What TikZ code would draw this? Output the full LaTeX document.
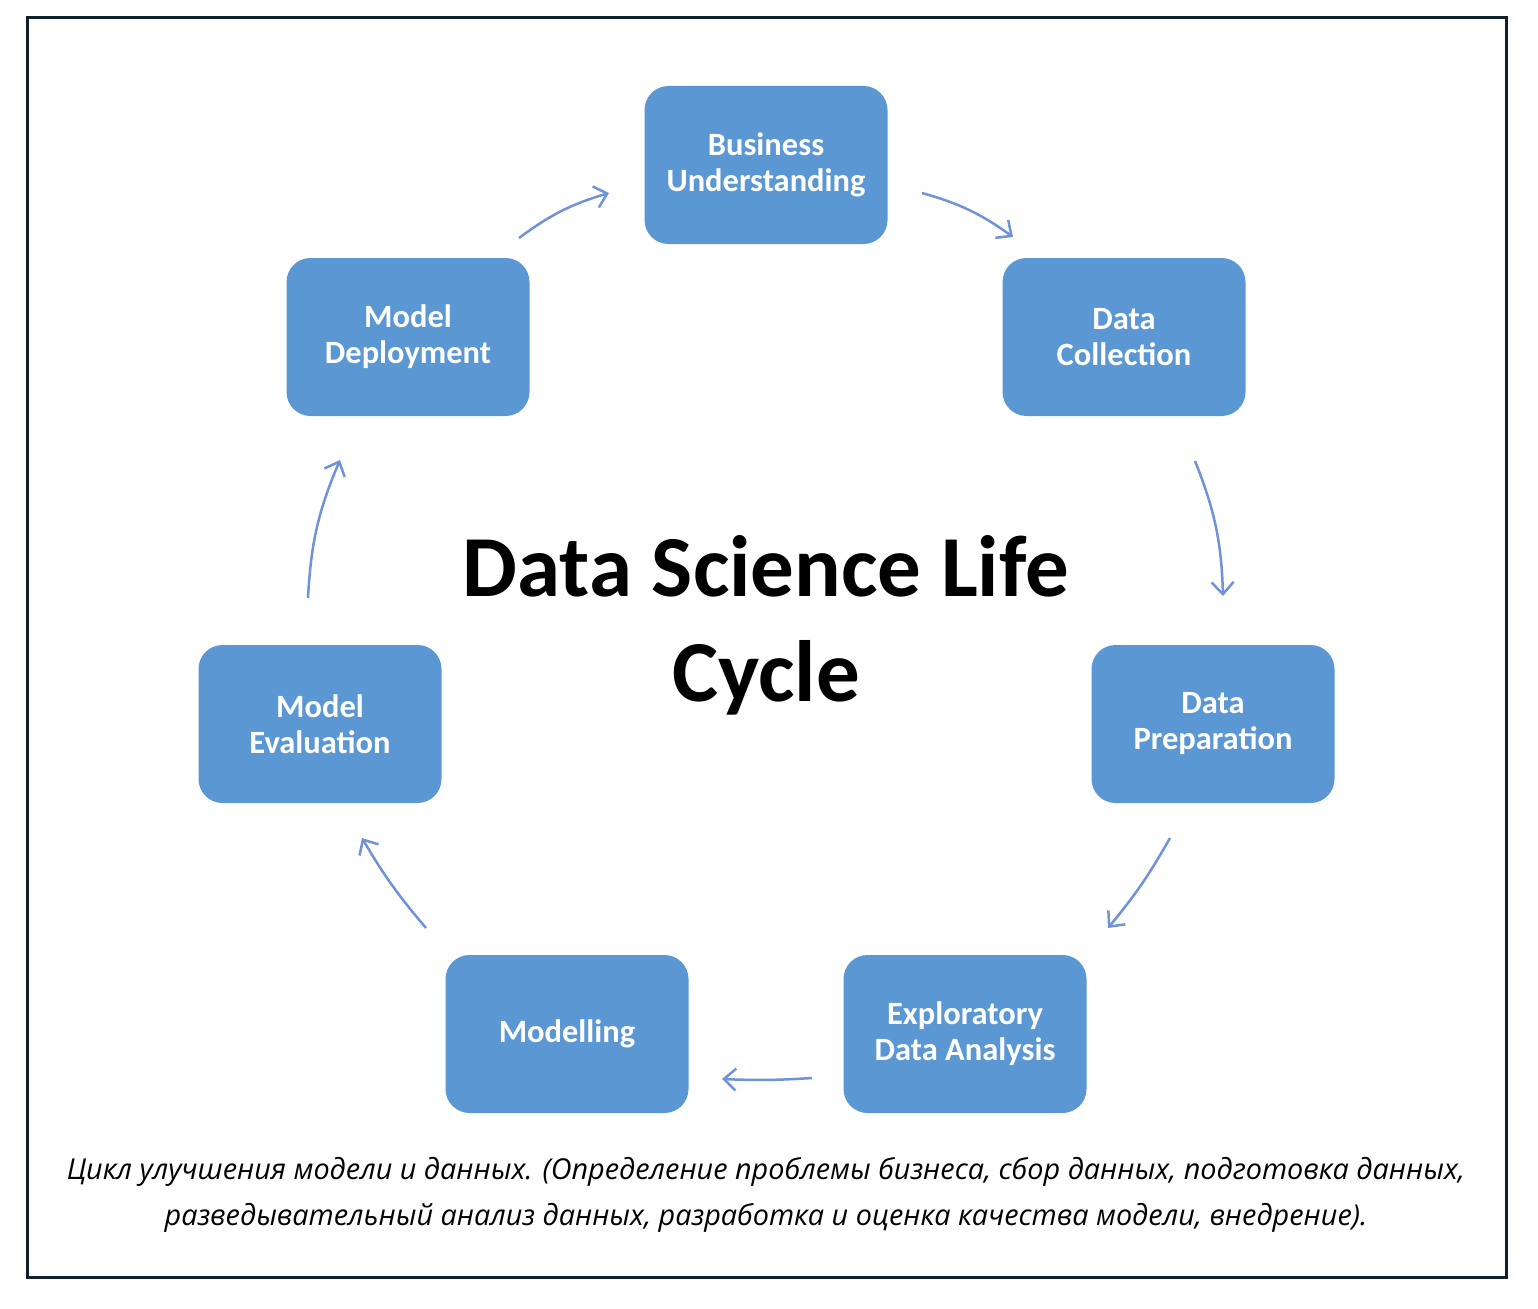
\documentclass[tikz,border=0pt]{standalone}
\usepackage{fontspec}
\setmainfont{Carlito}
\newfontfamily\captionfont{Open Sans}
\usetikzlibrary{arrows.meta}
\definecolor{boxblue}{RGB}{91,151,211}
\definecolor{arrowblue}{RGB}{112,146,214}
\definecolor{framecol}{RGB}{14,35,41}

\begin{document}
\begin{tikzpicture}[x=1pt,y=-1pt]
	\useasboundingbox (0,0) rectangle (1538,1308);
	\draw[framecol, line width=3pt] (27.5,17.5) rectangle (1506.5,1277.5);

	\begin{scope}[every node/.style={rectangle, rounded corners=24pt, fill=boxblue, minimum width=243pt, minimum height=158pt, text=white, align=center, font=\bfseries\fontsize{32.5}{36}\selectfont}]
		\node (bu) at (766,165) {Business\\Understanding};
		\node (dc) at (1124,337) {Data\\Collection};
		\node (dp) at (1213,724) {Data\\Preparation};
		\node (eda) at (965,1034) {Exploratory\\Data Analysis};
		\node (mod) at (567,1034) {Modelling};
		\node (mev) at (320,724) {Model\\Evaluation};
		\node (mdep) at (408,337) {Model\\Deployment};
	\end{scope}

	\node[align=center, font=\bfseries\fontsize{87}{105}\selectfont] (title) at (766,625) {Data Science Life\\Cycle};
	\node[align=center, font=\captionfont\itshape\fontsize{28.8}{46}\selectfont] (caption) at (766,1195) {Цикл улучшения модели и данных. (Определение проблемы бизнеса, сбор данных, подготовка данных,\\разведывательный анализ данных, разработка и оценка качества модели, внедрение).};

	% arrow ends
	\coordinate (a1s) at (519,238); \coordinate (a1e) at (609,193);
	\coordinate (a2s) at (922,193); \coordinate (a2e) at (1013,237);
	\coordinate (a3s) at (1195,461); \coordinate (a3e) at (1223,596);
	\coordinate (a4s) at (1170,838); \coordinate (a4e) at (1108,928);
	\coordinate (a5s) at (812,1078); \coordinate (a5e) at (722,1079);
	\coordinate (a6s) at (426,928); \coordinate (a6e) at (362,838);
	\coordinate (a7s) at (308,598); \coordinate (a7e) at (340,460);

	\begin{scope}[arrowblue, line width=2.5pt, -{Straight Barb[length=12pt,width=22pt]}]
		\draw (a1s) to[bend left=10] (a1e);
		\draw (a2s) to[bend left=10] (a2e);
		\draw (a3s) to[bend left=10] (a3e);
		\draw (a4s) to[bend left=5] (a4e);
		\draw (a5s) to[bend left=3] (a5e);
		\draw (a6s) to[bend left=5] (a6e);
		\draw (a7s) to[bend left=10] (a7e);
	\end{scope}
\end{tikzpicture}
\end{document}
